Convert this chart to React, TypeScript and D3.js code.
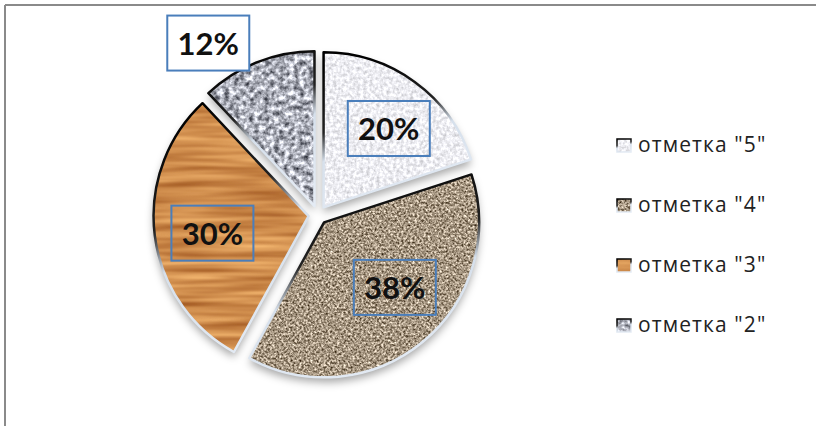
import React from 'react';
import * as d3 from 'd3';

const categories = ['отметка "5"', 'отметка "4"', 'отметка "3"', 'отметка "2"'];
const values = [20, 38, 30, 12];
const percentLabels = ['20%', '38%', '30%', '12%'];

const W = 816;
const H = 426;
const CX = 318;
const CY = 215;
const R = 155;
const EXPLODE = 9.5;
const textureIds = ['tex5', 'tex4', 'tex3', 'tex2'];
// label placement (style): radius factor and angular tweak in degrees
const labelRadius = [0.66, 0.62, 0.63, 1.245];
const labelAngle = [3.6, -7.8, -2.8, -11.8];

function Texture({ id, freq, oct, seed, m, blur }: { id: string; freq: string; oct: number; seed: number; m: string; blur?: number }) {
  return (
    <filter id={id} filterUnits="userSpaceOnUse" x={-W} y={-H} width={2 * W} height={2 * H} colorInterpolationFilters="sRGB">
      <feTurbulence type="fractalNoise" baseFrequency={freq} numOctaves={oct} seed={seed} result="n" />
      <feGaussianBlur in="n" stdDeviation={blur ?? 0.4} result="nb" />
      <feColorMatrix in="nb" type="matrix" values={m} result="c" />
      <feComposite in="c" in2="SourceGraphic" operator="in" />
    </filter>
  );
}

export default function App() {
  const pie = d3.pie<number>().sort(null).value((d) => d)(values);
  const arc = d3.arc<d3.PieArcDatum<number>>().innerRadius(0).outerRadius(R);

  const legendX = 617;
  const legendY0 = 152;
  const legendStep = 60;

  return (
    <svg width={W} height={H} style={{ position: 'absolute', left: 0, top: 0, background: '#fff' }}>
      <defs>
        <Texture id="tex5" freq="0.3" oct={3} seed={3} blur={0.5}
          m="0.42 0 0 0 0.72  0.42 0 0 0 0.72  0.42 0 0 0 0.74  0 0 0 0 1" />
        <Texture id="tex4" freq="0.45" oct={3} seed={7} blur={0.3}
          m="1.2 0 0 0 0.05  1.2 0 0 0 -0.01  1.2 0 0 0 -0.09  0 0 0 0 1" />
        <Texture id="tex3" freq="0.01 0.14" oct={2} seed={11} blur={0.7}
          m="0.42 0 0 0 0.6  0.48 0 0 0 0.31  0.4 0 0 0 0.1  0 0 0 0 1" />
        <Texture id="tex2" freq="0.2" oct={3} seed={5} blur={0.6}
          m="1.3 0 0 0 0.03  1.3 0 0 0 0.04  1.3 0 0 0 0.08  0 0 0 0 1" />
        <linearGradient id="bevel" x1="0.35" y1="0" x2="0.65" y2="1">
          <stop offset="0" stopColor="#000" />
          <stop offset="0.38" stopColor="#222" />
          <stop offset="0.55" stopColor="#d6e0ec" />
          <stop offset="1" stopColor="#e4ebf4" />
        </linearGradient>
        <filter id="shadow" x="-20%" y="-20%" width="140%" height="150%">
          <feDropShadow dx="0" dy="5" stdDeviation="4" floodColor="#000" floodOpacity="0.35" />
        </filter>
      </defs>

      {/* chart frame */}
      <line x1={5} y1={5} x2={W} y2={5} stroke="#8a8a8a" strokeWidth={2} />
      <line x1={5} y1={5} x2={5} y2={H} stroke="#8a8a8a" strokeWidth={2} />

      <g transform={`translate(${CX},${CY})`}>
        <g filter="url(#shadow)">
          {pie.map((p, i) => {
            const mid = (p.startAngle + p.endAngle) / 2;
            const dx = EXPLODE * Math.sin(mid);
            const dy = -EXPLODE * Math.cos(mid);
            return (
              <g key={i} transform={`translate(${dx},${dy})`}>
                <path d={arc(p) || ''} fill="#000" filter={`url(#${textureIds[i]})`} />
              </g>
            );
          })}
        </g>
        {pie.map((p, i) => {
          const mid = (p.startAngle + p.endAngle) / 2;
          const dx = EXPLODE * Math.sin(mid);
          const dy = -EXPLODE * Math.cos(mid);
          return (
            <g key={'s' + i} transform={`translate(${dx},${dy})`}>
              <path d={arc(p) || ''} fill="none" stroke="url(#bevel)" strokeWidth={2.5} strokeLinejoin="round" />
            </g>
          );
        })}
        {pie.map((p, i) => {
          const mid = (p.startAngle + p.endAngle) / 2;
          const sx = EXPLODE * Math.sin(mid);
          const sy = -EXPLODE * Math.cos(mid);
          const a = mid + (labelAngle[i] * Math.PI) / 180;
          const lr = labelRadius[i] * R;
          const lx = sx + lr * Math.sin(a);
          const ly = sy - lr * Math.cos(a);
          return (
            <g key={'l' + i} transform={`translate(${lx},${ly - (i === 3 ? 2 : 0)})`}>
              <rect x={-41} y={-27.5} width={82} height={55} fill={i === 3 ? '#fff' : 'none'} stroke="#4a7ebb" strokeWidth={2} />
              <text x={0} y={12} textAnchor="middle" fontFamily="Lato, 'Open Sans', sans-serif" fontWeight={700} fontSize={31} fill="#111">
                {percentLabels[i]}
              </text>
            </g>
          );
        })}
      </g>

      {categories.map((c, i) => {
        const y = legendY0 + i * legendStep;
        return (
          <g key={'lg' + i}>
            <rect x={legendX} y={y - 13} width={14} height={13} fill="#000" filter={`url(#${textureIds[i]})`} />
            <rect x={legendX} y={y - 13} width={14} height={13} fill="none" stroke="url(#bevel)" strokeWidth={1.5} />
            <text x={legendX + 21} y={y} fontFamily="'Open Sans', 'Noto Sans', sans-serif" fontSize={21} letterSpacing={1.1} fill="#222">
              {c}
            </text>
          </g>
        );
      })}
    </svg>
  );
}
